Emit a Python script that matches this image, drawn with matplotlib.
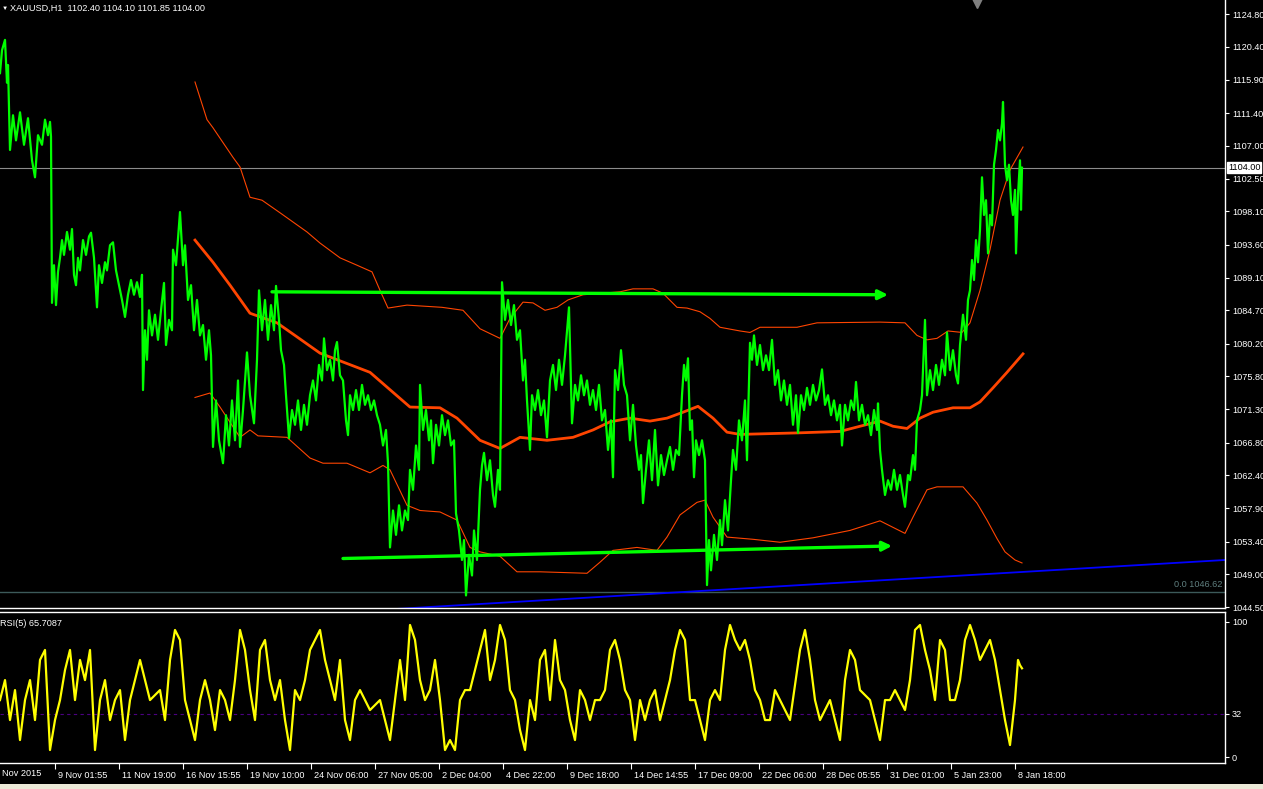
import matplotlib
matplotlib.use("Agg")
import matplotlib.pyplot as plt
import matplotlib.transforms as mtransforms
from matplotlib.patches import Rectangle

plt.rcParams['font.family'] = ['Liberation Sans', 'DejaVu Sans']

# XAUUSD H1: swing highs / lows (bar number, price)
price_bar = [0, 2, 5, 7, 8, 10, 13, 16, 20, 24, 28, 32, 35, 38, 42, 45, 48, 50, 51, 52,
             54, 56, 58, 60, 62, 64, 67, 70, 72, 74, 76, 78, 80, 83, 86, 89, 91, 94, 97, 99,
             102, 105, 107, 110, 113, 116, 119, 122, 125, 128, 131, 134, 137, 140, 142, 143, 145, 147, 149, 152,
             155, 158, 161, 164, 166, 169, 172, 173, 176, 180, 183, 185, 188, 191, 194, 197, 200, 203, 206, 209,
             211, 213, 216, 219, 223, 226, 229, 232, 235, 238, 240, 243, 247, 250, 254, 257, 259, 262, 265, 268,
             271, 274, 276, 279, 281, 284, 286, 289, 292, 295, 298, 301, 304, 307, 310, 313, 316, 319, 322, 324,
             327, 330, 333, 335, 337, 340, 343, 346, 348, 350, 353, 356, 359, 362, 365, 368, 371, 374, 377, 380,
             383, 386, 388, 390, 393, 396, 399, 402, 405, 408, 410, 413, 416, 419, 420, 423, 426, 429, 431, 433,
             436, 439, 442, 445, 448, 451, 454, 456, 459, 462, 464, 466, 469, 472, 474, 477, 480, 482, 484, 487,
             490, 493, 495, 498, 500, 502, 505, 508, 511, 514, 517, 520, 523, 525, 527, 530, 532, 535, 538, 541,
             544, 547, 550, 553, 556, 559, 562, 565, 569, 572, 575, 578, 581, 584, 587, 590, 593, 596, 599, 602,
             605, 608, 611, 613, 615, 618, 621, 624, 627, 630, 633, 636, 639, 641, 643, 646, 649, 652, 655, 658,
             661, 664, 667, 670, 673, 676, 679, 682, 684, 686, 688, 690, 692, 694, 696, 699, 702, 705, 707, 709,
             711, 714, 717, 720, 722, 725, 728, 731, 733, 736, 739, 742, 745, 747, 750, 752, 754, 757, 760, 763,
             766, 769, 772, 775, 778, 781, 784, 787, 790, 793, 796, 798, 801, 804, 807, 810, 813, 816, 819, 822,
             825, 828, 831, 834, 837, 840, 842, 845, 848, 851, 854, 856, 859, 862, 865, 868, 871, 874, 877, 878,
             880, 882, 885, 888, 891, 894, 897, 900, 903, 905, 908, 910, 913, 915, 917, 920, 922, 925, 927, 930,
             933, 936, 939, 942, 945, 947, 950, 953, 956, 958, 960, 963, 966, 968, 970, 972, 974, 976, 978, 980,
             982, 984, 986, 988, 990, 992, 994, 996, 998, 1000, 1002, 1003, 1005, 1007, 1009, 1011, 1013, 1015, 1016, 1018,
             1020, 1021, 1022]
price_val = [1116.8, 1119.9, 1121.3, 1115.5, 1117.9, 1106.4, 1111.1, 1107.7, 1111.5, 1107.1, 1110.7, 1105.0, 1102.7, 1108.4, 1107.1, 1110.5, 1108.4, 1110.2, 1108.2, 1085.7,
             1090.8, 1085.4, 1089.9, 1091.8, 1094.2, 1092.2, 1095.3, 1092.9, 1095.7, 1089.5, 1088.1, 1091.8, 1090.1, 1094.2, 1092.2, 1094.7, 1095.2, 1091.8, 1085.1, 1090.8,
             1088.4, 1091.2, 1090.1, 1093.5, 1093.9, 1090.1, 1088.1, 1086.1, 1083.8, 1086.8, 1088.8, 1086.8, 1088.5, 1086.5, 1089.5, 1073.9, 1082.0, 1078.0, 1084.7, 1081.3,
             1084.1, 1080.7, 1084.7, 1088.4, 1080.0, 1083.4, 1082.0, 1092.9, 1090.8, 1098.0, 1090.8, 1093.5, 1086.1, 1088.1, 1082.0, 1086.1, 1081.3, 1082.7, 1078.0, 1082.0,
             1078.6, 1066.2, 1072.5, 1067.1, 1064.0, 1070.5, 1066.4, 1072.5, 1067.1, 1075.2, 1066.2, 1071.2, 1079.0, 1073.2, 1069.4, 1078.0, 1087.4, 1082.0, 1086.1, 1080.7,
             1085.4, 1082.0, 1088.0, 1083.4, 1079.3, 1077.3, 1073.2, 1067.4, 1071.2, 1069.2, 1072.5, 1068.5, 1071.9, 1069.2, 1073.2, 1075.2, 1072.5, 1077.3, 1075.2, 1080.9,
             1076.6, 1078.0, 1075.2, 1079.3, 1080.4, 1075.9, 1075.2, 1069.8, 1067.8, 1073.2, 1071.2, 1073.9, 1071.2, 1074.6, 1071.9, 1073.2, 1071.2, 1072.5, 1070.5, 1069.2,
             1066.4, 1068.5, 1064.0, 1052.6, 1057.6, 1054.3, 1058.3, 1054.9, 1057.6, 1056.3, 1063.1, 1060.4, 1066.4, 1063.1, 1074.6, 1068.5, 1071.2, 1067.1, 1069.8, 1064.0,
             1069.2, 1066.4, 1070.5, 1067.8, 1069.8, 1066.4, 1067.1, 1057.2, 1054.9, 1050.9, 1053.6, 1046.1, 1051.6, 1048.8, 1054.9, 1050.9, 1060.4, 1063.7, 1065.4, 1061.7,
             1064.4, 1059.7, 1058.1, 1063.1, 1060.4, 1088.5, 1083.4, 1086.1, 1082.7, 1085.4, 1080.7, 1082.0, 1075.2, 1078.0, 1072.5, 1065.8, 1073.2, 1071.2, 1073.9, 1070.5,
             1072.5, 1067.5, 1075.2, 1077.3, 1073.9, 1078.0, 1074.6, 1078.6, 1085.1, 1069.4, 1074.6, 1072.5, 1075.9, 1073.2, 1075.2, 1071.9, 1073.9, 1071.2, 1074.6, 1069.8,
             1071.2, 1065.8, 1069.8, 1062.1, 1076.6, 1073.9, 1079.3, 1074.6, 1073.2, 1067.1, 1071.9, 1066.4, 1063.1, 1065.1, 1058.6, 1063.1, 1067.1, 1061.7, 1068.5, 1061.0,
             1065.1, 1062.4, 1064.4, 1066.2, 1063.1, 1065.8, 1065.1, 1073.2, 1077.3, 1075.2, 1078.2, 1068.5, 1069.8, 1062.1, 1067.1, 1065.1, 1067.1, 1064.4, 1047.5, 1053.6,
             1049.5, 1054.3, 1050.9, 1056.3, 1052.9, 1059.0, 1054.9, 1061.7, 1065.8, 1063.1, 1069.8, 1067.1, 1072.5, 1064.4, 1080.3, 1078.0, 1081.3, 1077.3, 1080.0, 1076.6,
             1078.6, 1076.6, 1080.7, 1074.6, 1076.6, 1072.5, 1075.2, 1071.9, 1074.6, 1069.2, 1073.2, 1068.1, 1073.2, 1071.2, 1074.2, 1071.9, 1074.6, 1072.5, 1073.9, 1076.7,
             1071.9, 1073.2, 1070.5, 1072.5, 1069.8, 1071.9, 1066.4, 1071.9, 1069.8, 1072.5, 1071.2, 1075.0, 1069.8, 1071.9, 1069.2, 1070.5, 1067.8, 1071.2, 1068.5, 1072.1,
             1065.8, 1063.1, 1059.7, 1061.7, 1060.4, 1063.1, 1060.4, 1062.4, 1059.7, 1058.1, 1062.4, 1061.7, 1065.1, 1063.1, 1069.8, 1071.2, 1073.2, 1083.4, 1073.2, 1076.6,
             1073.9, 1077.3, 1074.6, 1078.0, 1075.9, 1081.7, 1076.6, 1079.3, 1075.9, 1074.8, 1080.0, 1084.1, 1080.7, 1086.1, 1087.4, 1091.5, 1088.8, 1094.2, 1091.2, 1095.6,
             1102.7, 1097.6, 1099.6, 1092.4, 1097.6, 1096.2, 1104.4, 1106.4, 1109.1, 1107.7, 1110.0, 1112.9, 1104.4, 1102.3, 1104.4, 1099.6, 1097.6, 1101.0, 1092.4, 1100.3,
             1105.0, 1098.3, 1104.0]

# Bollinger bands
bb_up_bar = [195, 207, 213, 233, 240, 250, 262, 280, 307, 320, 340, 357, 372, 380, 388, 407, 442, 463, 480, 500,
             510, 523, 533, 545, 557, 568, 583, 620, 633, 653, 663, 677, 687, 700, 710, 720, 740, 750, 760, 797,
             817, 880, 905, 917, 927, 937, 948, 962, 970, 980, 990, 1000, 1010, 1023]
bb_up = [1115.6, 1110.5, 1109.4, 1105.4, 1104.1, 1100.0, 1099.6, 1097.9, 1095.3, 1093.8, 1091.8, 1090.8, 1089.9, 1087.4, 1085.0, 1085.4, 1085.1, 1084.7, 1082.2, 1080.9,
         1083.6, 1085.8, 1085.7, 1084.7, 1085.1, 1086.1, 1086.8, 1087.2, 1087.6, 1087.6, 1087.0, 1085.1, 1085.0, 1084.5, 1083.6, 1082.4, 1081.9, 1081.7, 1082.4, 1082.4,
         1083.0, 1083.1, 1083.0, 1081.3, 1080.7, 1080.9, 1081.9, 1081.7, 1083.0, 1087.4, 1092.9, 1099.6, 1103.7, 1106.8]
bb_mid_bar = [195, 213, 230, 250, 277, 297, 320, 343, 370, 387, 410, 440, 457, 480, 500, 520, 547, 573, 593, 610,
              630, 650, 667, 683, 698, 713, 727, 740, 797, 840, 880, 893, 907, 920, 933, 953, 970, 980, 993, 1007,
              1023]
bb_mid = [1094.2, 1091.2, 1088.1, 1084.3, 1083.0, 1081.1, 1078.9, 1077.7, 1076.3, 1074.3, 1071.6, 1071.5, 1070.1, 1067.1, 1066.0, 1067.5, 1067.1, 1067.5, 1068.5, 1069.6,
          1070.1, 1069.7, 1070.1, 1070.9, 1071.7, 1070.1, 1068.2, 1067.9, 1068.1, 1068.3, 1069.7, 1069.0, 1068.7, 1070.1, 1070.9, 1071.5, 1071.5, 1072.3, 1074.2, 1076.3,
          1078.8]
bb_low_bar = [195, 210, 220, 240, 250, 258, 287, 310, 323, 347, 370, 383, 390, 407, 420, 440, 457, 470, 480, 500,
              517, 540, 587, 600, 613, 637, 657, 667, 680, 697, 705, 713, 727, 753, 780, 813, 850, 880, 905, 913,
              927, 937, 963, 977, 987, 997, 1005, 1015, 1022]
bb_low = [1072.9, 1073.5, 1071.6, 1067.5, 1068.5, 1067.7, 1067.5, 1064.7, 1064.0, 1064.0, 1062.7, 1063.7, 1063.1, 1058.3, 1057.6, 1057.4, 1056.3, 1052.6, 1052.0, 1051.4,
          1049.3, 1049.3, 1049.1, 1050.6, 1052.2, 1052.6, 1052.2, 1054.0, 1057.0, 1058.7, 1059.0, 1056.7, 1054.0, 1053.7, 1053.3, 1053.9, 1054.9, 1056.2, 1054.5, 1056.7,
          1060.4, 1060.8, 1060.8, 1058.6, 1056.3, 1053.8, 1052.0, 1050.9, 1050.5]

# RSI(5)
rsi_bar = [0, 5, 10, 15, 20, 25, 30, 35, 40, 45, 50, 55, 60, 65, 70, 75, 80, 85, 90, 95,
           100, 105, 110, 115, 120, 125, 130, 140, 150, 160, 165, 170, 175, 180, 185, 190, 195, 200, 205, 210,
           215, 220, 225, 230, 235, 240, 245, 250, 255, 260, 265, 270, 275, 280, 285, 290, 295, 300, 305, 310,
           315, 320, 325, 330, 335, 340, 345, 350, 355, 360, 370, 380, 390, 395, 400, 405, 410, 415, 420, 425,
           430, 435, 440, 445, 450, 455, 460, 465, 470, 475, 480, 485, 490, 495, 500, 505, 510, 515, 520, 525,
           530, 535, 540, 545, 550, 555, 560, 565, 570, 575, 580, 585, 590, 595, 600, 605, 610, 615, 620, 625,
           630, 635, 640, 645, 650, 655, 660, 665, 670, 675, 680, 685, 690, 695, 700, 705, 710, 715, 720, 725,
           730, 735, 740, 745, 750, 755, 760, 765, 770, 775, 780, 790, 800, 805, 810, 815, 820, 830, 840, 845,
           850, 855, 860, 870, 880, 885, 890, 895, 900, 905, 910, 915, 920, 925, 930, 935, 940, 945, 950, 955,
           960, 965, 970, 975, 980, 985, 990, 995, 1000, 1005, 1010, 1015, 1018, 1020, 1022]
rsi_val = [42.2, 57.0, 27.4, 49.6, 12.6, 42.2, 57.0, 27.4, 71.9, 79.3, 5.2, 27.4, 42.2, 64.4, 79.3, 42.2, 71.9, 57.0, 79.3, 5.2,
           42.2, 57.0, 27.4, 42.2, 49.6, 12.6, 42.2, 71.9, 42.2, 49.6, 27.4, 71.9, 94.1, 86.7, 42.2, 27.4, 12.6, 42.2, 57.0, 42.2,
           20.0, 49.6, 42.2, 27.4, 57.0, 94.1, 79.3, 49.6, 27.4, 79.3, 86.7, 57.0, 42.2, 57.0, 27.4, 5.2, 49.6, 42.2, 57.0, 79.3,
           86.7, 94.1, 71.9, 57.0, 42.2, 71.9, 27.4, 12.6, 42.2, 49.6, 34.8, 42.2, 12.6, 42.2, 71.9, 42.2, 97.8, 86.7, 57.0, 42.2,
           49.6, 71.9, 42.2, 5.2, 12.6, 5.2, 42.2, 49.6, 49.6, 64.4, 79.3, 94.1, 57.0, 71.9, 97.8, 86.7, 49.6, 42.2, 20.0, 5.2,
           42.2, 27.4, 71.9, 79.3, 42.2, 86.7, 57.0, 49.6, 27.4, 12.6, 49.6, 42.2, 27.4, 42.2, 42.2, 49.6, 79.3, 86.7, 71.9, 49.6,
           42.2, 12.6, 42.2, 27.4, 42.2, 49.6, 27.4, 42.2, 57.0, 79.3, 94.1, 86.7, 42.2, 42.2, 27.4, 12.6, 42.2, 49.6, 42.2, 79.3,
           97.8, 86.7, 79.3, 86.7, 71.9, 49.6, 42.2, 27.4, 27.4, 49.6, 42.2, 27.4, 79.3, 94.1, 71.9, 42.2, 27.4, 42.2, 12.6, 57.0,
           79.3, 71.9, 49.6, 42.2, 12.6, 42.2, 42.2, 49.6, 42.2, 34.8, 57.0, 94.1, 97.8, 79.3, 64.4, 42.2, 86.7, 79.3, 42.2, 42.2,
           57.0, 86.7, 97.8, 86.7, 71.9, 79.3, 86.7, 71.9, 49.6, 27.4, 8.9, 42.2, 71.9, 68.0, 65.7]
rsi_level = 32

# objects drawn on the chart
top_arrow_bar = [272, 888]
top_arrow_val = [1087.2, 1086.8]
low_arrow_bar = [343, 892]
low_arrow_val = [1051.1, 1052.8]
blue_bar = [300, 1225]
blue_val = [1043.5, 1050.9]
bid_price = 1104.00
fib_price = 1046.62

price_ticks = [1124.80, 1120.40, 1115.90, 1111.40, 1107.00, 1102.50, 1098.10, 1093.60, 1089.10, 1084.70,
               1080.20, 1075.80, 1071.30, 1066.80, 1062.40, 1057.90, 1053.40, 1049.00, 1044.50]
rsi_ticks = [100, 32, 0]
time_bars = [55, 119, 183, 247, 311, 375, 439, 503, 567, 631, 695, 759, 823, 887, 951, 1015]
time_labels = ["9 Nov 01:55", "11 Nov 19:00", "16 Nov 15:55", "19 Nov 10:00", "24 Nov 06:00",
               "27 Nov 05:00", "2 Dec 04:00", "4 Dec 22:00", "9 Dec 18:00", "14 Dec 14:55",
               "17 Dec 09:00", "22 Dec 06:00", "28 Dec 05:55", "31 Dec 01:00", "5 Jan 23:00",
               "8 Jan 18:00"]

W, H = 1263, 789
fs = 6.6
fig = plt.figure(figsize=(W / 100, H / 100), dpi=100, facecolor="black")
ax = fig.add_axes([0, 1 - 608 / H, 1225 / W, 608 / H])
rs = fig.add_axes([0, 1 - 763 / H, 1225 / W, (763 - 612) / H])

for a in (ax, rs):
    a.set_facecolor("black")
    a.set_xlim(0, 1225)
    for s in a.spines.values():
        s.set_color("white")
        s.set_linewidth(1)
    a.spines["left"].set_visible(False)
    a.yaxis.tick_right()
    a.tick_params(axis="y", colors="white", labelsize=fs, length=3, pad=2, width=0.8)
ax.spines["top"].set_visible(False)

# main chart
ax.set_ylim(1044.4, 1126.7)
ax.set_yticks(price_ticks)
ax.set_yticklabels([f"{p:.2f}" for p in price_ticks])
ax.set_xticks([])

ax.axhline(bid_price, color="#8c8c8c", lw=0.8)
ax.axhline(fib_price, color="#3c5a5a", lw=1)
ax.text(1222, fib_price + 0.3, f"0.0 {fib_price:.2f}", color="#5f7f7f", fontsize=fs,
        ha="right", va="bottom")
ax.plot(blue_bar, blue_val, color="#0000ff", lw=1.3)

ax.plot(bb_up_bar, bb_up, color="#ff4500", lw=0.8)
ax.plot(bb_low_bar, bb_low, color="#ff4500", lw=0.8)
ax.plot(bb_mid_bar, bb_mid, color="#ff4500", lw=2)
ax.plot(price_bar, price_val, color="#00ff00", lw=1.6)

for xs, ys in ((top_arrow_bar, top_arrow_val), (low_arrow_bar, low_arrow_val)):
    ax.annotate("", xy=(xs[1], ys[1]), xytext=(xs[0], ys[0]),
                arrowprops=dict(arrowstyle="-|>", color="#00ff00", lw=2.4,
                                mutation_scale=14, shrinkA=0, shrinkB=0))

trans = mtransforms.blended_transform_factory(ax.transAxes, ax.transData)
ax.text(1.0 + 3 / 1225, bid_price, f"{bid_price:.2f}", transform=trans, color="black",
        fontsize=fs, ha="left", va="center",
        bbox=dict(boxstyle="square,pad=0.1", fc="white", ec="white"))
ax.plot([977], [0.996], transform=mtransforms.blended_transform_factory(ax.transData, ax.transAxes),
        marker="v", color="#7f7f7f", markersize=8, clip_on=False)

# RSI window
rs.set_ylim(-4.4, 107.4)
rs.set_yticks(rsi_ticks)
rs.set_yticklabels([str(t) for t in rsi_ticks])
rs.axhline(rsi_level, color="#4b0082", lw=0.8, dashes=(3, 3))
rs.plot(rsi_bar, rsi_val, color="#ffff00", lw=1.6)
rs.text(0, 0.955, "RSI(5) 65.7087", transform=rs.transAxes, color="white", fontsize=fs,
        ha="left", va="top")

rs.set_xticks(time_bars)
rs.set_xticklabels(time_labels, ha="left")
rs.tick_params(axis="x", colors="white", labelsize=fs, length=4, pad=1.5, width=0.8)
shift = mtransforms.ScaledTranslation(3 / 100, 0, fig.dpi_scale_trans)
for lbl in rs.get_xticklabels():
    lbl.set_transform(lbl.get_transform() + shift)
fig.text(2 / W, 1 - 773 / H, "Nov 2015", color="white", fontsize=fs, ha="left", va="center")

fig.text(10 / W, 1 - 8 / H, "XAUUSD,H1  1102.40 1104.10 1101.85 1104.00", color="white",
         fontsize=fs, ha="left", va="center")
fig.text(2 / W, 1 - 8 / H, "\u25bc", color="white", fontsize=4.5, ha="left", va="center")

fig.patches.append(Rectangle((0, 0), 1, 5 / H, transform=fig.transFigure,
                             facecolor="#ece9d8", edgecolor="none"))

fig.savefig("out.png", dpi=100, facecolor="black")
